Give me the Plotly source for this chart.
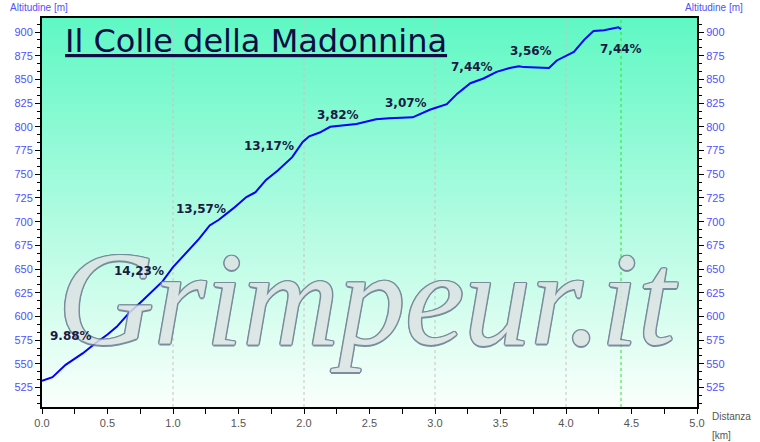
import plotly.graph_objects as go

# ---- data ----
distance_km = [0.0, 0.08, 0.18, 0.31, 0.41, 0.5, 0.57, 0.66, 0.77, 0.92, 1.0, 1.1, 1.2, 1.28,
               1.35, 1.46, 1.56, 1.63, 1.71, 1.8, 1.91, 1.99, 2.04, 2.12, 2.2, 2.4, 2.55, 2.65,
               2.83, 2.96, 3.09, 3.17, 3.27, 3.37, 3.47, 3.57, 3.64, 3.68, 3.87, 3.93, 4.06,
               4.14, 4.21, 4.29, 4.4, 4.42]
altitude_m = [532, 536, 549, 561, 572, 581, 589, 603, 617, 637, 652, 667, 682, 696,
              702, 714, 726, 731, 744, 754, 768, 784, 790, 794, 800, 803, 808, 809,
              810, 818, 824, 835, 846, 851, 858, 862, 864, 863, 862, 870, 879,
              892, 901, 902, 905, 903]

grade_labels = ["9.88%", "14,23%", "13,57%", "13,17%", "3,82%", "3,07%", "7,44%", "3,56%", "7,44%"]
label_km = [0.22, 0.74, 1.21, 1.73, 2.26, 2.78, 3.28, 3.73, 4.42]
label_alt = [579, 648, 713, 780, 813, 825, 863, 880, 882]

grid_km = [1, 2, 3, 4]
y_ticks = list(range(525, 901, 25))
x_ticks = [i * 0.5 for i in range(11)]
title = "Il Colle della Madonnina"
watermark = "Grimpeur.it"

Y_RANGE = [504.5, 914.8]
X_RANGE = [0, 5]

fig = go.Figure()

# gradient background strips
n = 90
top = (96, 248, 196)
bot = (250, 255, 252)
for i in range(n):
    t = i / (n - 1)
    c = tuple(int(round(bot[k] + (top[k] - bot[k]) * t)) for k in range(3))
    fig.add_shape(type="rect", xref="x domain", yref="y domain",
                  x0=0, x1=1, y0=i / n, y1=(i + 1) / n + 0.002,
                  fillcolor="rgb(%d,%d,%d)" % c, line_width=0, layer="below")

for g in grid_km:
    fig.add_shape(type="line", xref="x", yref="y domain", x0=g, x1=g, y0=0, y1=1,
                  line=dict(color="#c4c4c4", width=1, dash="dot"), layer="below")
fig.add_shape(type="line", xref="x", yref="y domain", x0=distance_km[-1], x1=distance_km[-1],
              y0=0, y1=1, line=dict(color="#33dd33", width=1, dash="dot"), layer="below")

fig.add_trace(go.Scatter(x=distance_km, y=altitude_m, mode="lines",
                         line=dict(color="#0000ff", width=2), hoverinfo="skip",
                         showlegend=False))
fig.add_trace(go.Scatter(x=distance_km, y=altitude_m, mode="lines", yaxis="y2",
                         line=dict(color="rgba(0,0,0,0)", width=0), hoverinfo="skip",
                         showlegend=False))

annotations = []

# watermark first so the grade labels sit on top of it
oc = "#6a7a8e"
shadow = ", ".join("%spx %spx 0 %s" % (dx, dy, oc) for dx, dy in
                   [(1.5, 0), (-1.5, 0), (0, 1.5), (0, -1.5), (1, 1), (-1, -1), (1, -1), (-1, 1)])
annotations.append(dict(x=0.11, y=618, xref="x", yref="y", text=watermark, showarrow=False,
                        xanchor="left", yanchor="middle", opacity=0.85,
                        font=dict(family="Liberation Serif", size=133, color="#dde3e4",
                                  style="italic", shadow=shadow)))

for txt, xk, ya in zip(grade_labels, label_km, label_alt):
    annotations.append(dict(x=xk, y=ya, xref="x", yref="y", text=txt, showarrow=False,
                            font=dict(family="DejaVu Sans", size=12, color="#1a1a45", weight="bold")))

annotations.append(dict(x=0.16, y=890.5, xref="x", yref="y", text=title, showarrow=False,
                        xanchor="left", yanchor="middle",
                        font=dict(family="DejaVu Sans", size=32, color="#0d0d45",
                                  lineposition="under")))

annotations.append(dict(x=-0.005, y=1.0, xref="paper", yref="paper", yanchor="bottom",
                        xanchor="center", yshift=3,
                        text="Altitudine [m]", showarrow=False,
                        font=dict(family="Liberation Sans", size=10, color="#5050ff")))
annotations.append(dict(x=1.026, y=1.0, xref="paper", yref="paper", yanchor="bottom",
                        xanchor="center", yshift=3,
                        text="Altitudine [m]", showarrow=False,
                        font=dict(family="Liberation Sans", size=10, color="#5050ff")))
annotations.append(dict(x=1.053, y=0, xref="paper", yref="paper", yanchor="top",
                        xanchor="center", yshift=-2,
                        text="Distanza", showarrow=False,
                        font=dict(family="Liberation Sans", size=10, color="#555555")))
annotations.append(dict(x=1.038, y=0, xref="paper", yref="paper", yanchor="top",
                        xanchor="center", yshift=-21,
                        text="[km]", showarrow=False,
                        font=dict(family="Liberation Sans", size=10, color="#555555")))

fig.update_layout(
    width=760, height=442,
    margin=dict(l=42, r=63, t=18, b=35, pad=0, autoexpand=False),
    paper_bgcolor="white", plot_bgcolor="white",
    annotations=annotations,
    xaxis=dict(range=X_RANGE, tickvals=x_ticks, tickformat=".1f", showgrid=False,
               zeroline=False, showline=True, linecolor="black", linewidth=2, mirror=True,
               ticks="outside", ticklen=5, tickcolor="black",
               minor=dict(dtick=0.25, tick0=0, ticks="outside", ticklen=5, tickcolor="black"),
               tickfont=dict(family="Liberation Sans", size=11, color="#555555")),
    yaxis=dict(range=Y_RANGE, tickvals=y_ticks, showgrid=False, zeroline=False,
               showline=True, linecolor="black", linewidth=2,
               ticks="outside", ticklen=5, tickcolor="black",
               minor=dict(dtick=25 / 3, tick0=525, ticks="outside", ticklen=3, tickcolor="black"),
               tickfont=dict(family="Liberation Sans", size=11, color="#5050ff")),
    yaxis2=dict(range=Y_RANGE, tickvals=y_ticks, overlaying="y", side="right", showgrid=False,
                zeroline=False, showline=True, linecolor="black", linewidth=2,
                ticks="outside", ticklen=5, tickcolor="black",
                minor=dict(dtick=25 / 3, tick0=525, ticks="outside", ticklen=3, tickcolor="black"),
                tickfont=dict(family="Liberation Sans", size=11, color="#5050ff")),
)

fig.write_html("out.html", config={"displayModeBar": False},
               post_script="document.body.style.margin='0';document.body.style.overflow='hidden';")
